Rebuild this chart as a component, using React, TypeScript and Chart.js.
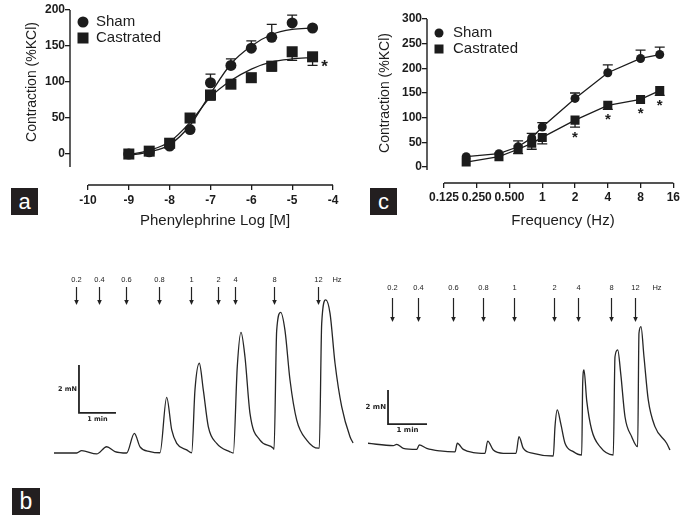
import React, { useEffect, useRef } from "react";
import { Chart, registerables } from "chart.js";

Chart.register(...registerables);

const FONT = '"Liberation Sans", Arial, sans-serif';
const INK = "#1c1c1c";
Chart.defaults.font.family = FONT;

// ---------- shared ----------
const seriesNames = ["Sham", "Castrated"];

// ---------- Panel a: phenylephrine concentration–response ----------
const peLogDose = [-9, -8.5, -8, -7.5, -7, -6.5, -6, -5.5, -5, -4.5];
const peSham = [0, 3, 11, 34, 99, 123, 147, 162, 182, 175];
const peShamSem = [0, 0, 0, 0, 12, 9, 10, 18, 11, 0];
const peCast = [0, 4, 15, 50, 82, 97, 106, 122, 142, 135];
const peCastSem = [0, 0, 0, 6, 7, 0, 0, 7, 12, 12];
const peShamFit = [-2, 3, 13, 40, 84, 125, 150, 166, 173, 175];
const peCastFit = [-1, 5, 17, 44, 79, 102, 118, 128, 132, 134];
const peXTicks = [-10, -9, -8, -7, -6, -5, -4];
const peYTicks = [0, 50, 100, 150, 200];

// ---------- Panel c: EFS frequency–response ----------
const efsFreq = [0.2, 0.4, 0.6, 0.8, 1, 2, 4, 8, 12];
const efsSham = [21, 27, 41, 59, 81, 139, 191, 220, 228];
const efsShamSem = [0, 0, 12, 9, 9, 11, 16, 17, 15];
const efsCast = [10, 21, 36, 48, 60, 95, 125, 137, 155];
const efsCastSem = [0, 0, 9, 12, 13, 14, 8, 0, 10];
const efsSignificant = [false, false, false, false, false, true, true, true, true];
const efsXTicks = [0.125, 0.25, 0.5, 1, 2, 4, 8, 16];
const efsXTickLabels = ["0.125", "0.250", "0.500", "1", "2", "4", "8", "16"];
const efsYTicks = [0, 50, 100, 150, 200, 250, 300];

// ---------- Panel b: tension traces (time s, force mN) ----------
const stimLabels = ["0.2", "0.4", "0.6", "0.8", "1", "2", "4", "8", "12"];
const shamStimTimes = [35.7, 73.0, 116.8, 170.3, 222.2, 265.9, 293.5, 356.8, 428.1];
const shamTraceT = [0, 36.8, 44.9, 69.2, 85.4, 98.9, 117.8, 130.3, 139.5, 155.7, 171.9, 182.7, 190.9, 199.0, 215.2, 223.3, 228.6, 235.6, 242.1, 250.2, 263.8, 285.4, 290.8, 297.2, 303.2, 309.7, 317.8, 334.0, 355.6, 356.8, 361.1, 367.6, 374.6, 382.7, 393.6, 409.8, 428.6, 430.2, 434.1, 440.6, 447.6, 455.7, 466.5, 480.0, 484.9];
const shamTraceF = [0, 0, 0.1, -0.04, 0.26, 0.06, 0, 0.82, 0.26, 0.06, 0.01, 2.32, 0.96, 0.4, 0.13, 0.01, 2.63, 3.74, 2.63, 1.1, 0.4, 0.05, 0, 3.6, 5.03, 4.0, 1.65, 0.54, 0.2, 0.15, 5.1, 5.86, 5.1, 3.04, 1.37, 0.54, 0.2, 0.2, 5.4, 6.38, 5.82, 3.74, 1.93, 0.68, 0.42];
const castStimTimes = [36.9, 76.9, 130.8, 176.9, 224.6, 286.2, 323.1, 373.8, 410.8];
const castTraceT = [0, 38.9, 44.1, 54.3, 74.9, 78.9, 90.3, 110.8, 133.8, 137.4, 146.6, 162.0, 180.0, 184.1, 192.8, 208.2, 227.7, 232.3, 239.0, 254.3, 285.1, 287.7, 291.2, 296.5, 303.1, 315.9, 328.8, 330.3, 332.3, 336.5, 344.2, 356.9, 377.4, 380.0, 384.2, 388.8, 395.4, 405.7, 414.9, 416.9, 420.0, 424.6, 431.2, 441.5, 459.5, 464.6];
const castTraceF = [0.69, 0.55, 0.63, 0.39, 0.33, 0.59, 0.39, 0.24, 0.18, 0.69, 0.33, 0.14, 0.1, 0.82, 0.29, 0.1, 0.1, 1.08, 0.39, 0.1, -0.06, 1.67, 2.65, 1.86, 0.69, 0.2, 0, 4.2, 5.0, 3.2, 1.47, 0.49, 0, 5.78, 6.18, 4.8, 2.25, 1.08, 0.49, 7.16, 7.55, 5.78, 3.24, 1.67, 0.69, 0.29];

const zip = (xs: number[], ys: number[]) => xs.map((x, i) => ({ x, y: ys[i] }));

function decorPlugin(d: any) {
  return {
    id: "decor",
    beforeDatasetsDraw(chart: any) {
      const { ctx, scales } = chart;
      const x = scales.x, y = scales.y;
      ctx.save();
      ctx.strokeStyle = INK;
      ctx.lineWidth = 1.3;
      for (const e of d.errors) {
        e.xs.forEach((xv: number, i: number) => {
          const s = e.errs[i];
          if (!s) return;
          const px = x.getPixelForValue(xv);
          const p0 = y.getPixelForValue(e.ys[i]);
          const p1 = y.getPixelForValue(e.ys[i] + e.dir * s);
          ctx.beginPath();
          ctx.moveTo(px, p0);
          ctx.lineTo(px, p1);
          ctx.moveTo(px - d.cap / 2, p1);
          ctx.lineTo(px + d.cap / 2, p1);
          ctx.stroke();
        });
      }
      ctx.restore();
    },
    afterDraw(chart: any) {
      const { ctx, scales, chartArea } = chart;
      const x = scales.x, y = scales.y;
      ctx.save();
      ctx.strokeStyle = INK;
      ctx.fillStyle = INK;
      ctx.lineWidth = 1.4;
      // axis lines (Prism-style, offset)
      ctx.beginPath();
      ctx.moveTo(chartArea.left, y.getPixelForValue(d.yAxis[1]));
      ctx.lineTo(chartArea.left, y.getPixelForValue(d.yAxis[0]));
      ctx.moveTo(x.getPixelForValue(d.xAxis[0]), chartArea.bottom);
      ctx.lineTo(x.getPixelForValue(d.xAxis[1]), chartArea.bottom);
      ctx.stroke();
      // titles
      ctx.textAlign = "center";
      ctx.textBaseline = "middle";
      ctx.font = `15px ${FONT}`;
      ctx.fillText(d.xTitle, d.xTitlePos[0], d.xTitlePos[1]);
      ctx.save();
      ctx.translate(d.yTitlePos[0], d.yTitlePos[1]);
      ctx.rotate(-Math.PI / 2);
      ctx.font = `14px ${FONT}`;
      ctx.fillText(d.yTitle, 0, 0);
      ctx.restore();
      // legend
      const [lx, ly] = d.legend.pos;
      ctx.beginPath();
      ctx.arc(lx, ly, d.legend.r, 0, Math.PI * 2);
      ctx.fill();
      const s = d.legend.side;
      ctx.fillRect(lx - s / 2, ly + d.legend.gap - s / 2, s, s);
      ctx.textAlign = "left";
      ctx.font = `15px ${FONT}`;
      ctx.fillText(seriesNames[0], d.legend.textX, ly);
      ctx.fillText(seriesNames[1], d.legend.textX, ly + d.legend.gap);
      // significance stars
      ctx.textAlign = "center";
      ctx.textBaseline = "alphabetic";
      ctx.font = `bold ${d.starSize}px ${FONT}`;
      for (const st of d.stars(x, y)) {
        ctx.fillText("*", st.cx, st.cy + d.starSize * 0.57);
      }
      ctx.restore();
    },
  };
}

function axisCommon(ticks: number[], labels: (v: number) => string, fit: (s: any) => void, pad: number) {
  return {
    afterBuildTicks: (s: any) => {
      s.ticks = ticks.map((v) => ({ value: v }));
    },
    afterFit: fit,
    border: { display: false },
    grid: { drawOnChartArea: false, drawTicks: true, tickLength: 5, color: INK, lineWidth: 1.3 },
    ticks: {
      autoSkip: false,
      maxRotation: 0,
      minRotation: 0,
      padding: pad,
      color: INK,
      font: { family: FONT, size: 12, weight: "bold" },
      callback: (v: any) => labels(Number(v)),
    },
  };
}

function pointSet(label: string, data: any[], style: string, r: number, order: number, showLine: boolean) {
  return {
    label,
    data,
    showLine,
    pointStyle: style,
    pointRadius: r,
    pointBackgroundColor: INK,
    pointBorderColor: INK,
    pointBorderWidth: 0,
    borderColor: INK,
    borderWidth: 1.3,
    backgroundColor: INK,
    order,
  };
}

function configA(): any {
  return {
    type: "line",
    data: {
      datasets: [
        pointSet(seriesNames[1], zip(peLogDose, peCast), "rect", 7.8, 0, false),
        pointSet(seriesNames[0], zip(peLogDose, peSham), "circle", 5.5, 1, false),
        { label: "Sham fit", data: zip(peLogDose, peShamFit), pointRadius: 0, borderColor: INK, borderWidth: 1.3, cubicInterpolationMode: "monotone", order: 2 },
        { label: "Castrated fit", data: zip(peLogDose, peCastFit), pointRadius: 0, borderColor: INK, borderWidth: 1.3, cubicInterpolationMode: "monotone", order: 2 },
      ],
    },
    options: {
      responsive: false,
      animation: false,
      devicePixelRatio: 1,
      events: [],
      layout: { padding: { top: 10, right: 12, left: 0, bottom: 0 }, autoPadding: false },
      plugins: { legend: { display: false }, tooltip: { enabled: false } },
      scales: {
        x: { type: "linear", min: -10.44, max: -4, ...axisCommon(peXTicks, (v) => String(v), (s: any) => { s.height = 55; }, 3) },
        y: { type: "linear", min: -43, max: 200, ...axisCommon(peYTicks, (v) => String(v), (s: any) => { s.width = 70; }, 0) },
      },
    },
    plugins: [
      decorPlugin({
        errors: [
          { xs: peLogDose, ys: peSham, errs: peShamSem, dir: 1 },
          { xs: peLogDose, ys: peCast, errs: peCastSem, dir: -1 },
        ],
        cap: 10,
        yAxis: [-18, 200],
        xAxis: [-10, -4],
        xTitle: "Phenylephrine Log [M]",
        xTitlePos: [215, 221],
        yTitle: "Contraction (%KCl)",
        yTitlePos: [32, 82],
        legend: { pos: [83, 22], r: 5.5, side: 11, gap: 16, textX: 96 },
        starSize: 17,
        stars: (x: any, y: any) => {
          const i = peLogDose.length - 1;
          return [{ cx: x.getPixelForValue(peLogDose[i]) + 12, cy: y.getPixelForValue(peCast[i]) + 5 }];
        },
      }),
    ],
  };
}

function configC(): any {
  return {
    type: "line",
    data: {
      datasets: [
        pointSet(seriesNames[1], zip(efsFreq, efsCast), "rect", 6.4, 0, true),
        pointSet(seriesNames[0], zip(efsFreq, efsSham), "circle", 4.5, 1, true),
      ],
    },
    options: {
      responsive: false,
      animation: false,
      devicePixelRatio: 1,
      events: [],
      layout: { padding: { top: 19, right: 8, left: 0, bottom: 0 }, autoPadding: false },
      plugins: { legend: { display: false }, tooltip: { enabled: false } },
      scales: {
        x: {
          type: "logarithmic",
          min: 0.0873,
          max: 16,
          ...axisCommon(efsXTicks, (v) => efsXTickLabels[efsXTicks.indexOf(v)] ?? "", (s: any) => { s.height = 57; }, 2),
        },
        y: { type: "linear", min: -32.4, max: 300, ...axisCommon(efsYTicks, (v) => String(v), (s: any) => { s.width = 82; }, 0) },
      },
    },
    plugins: [
      decorPlugin({
        errors: [
          { xs: efsFreq, ys: efsSham, errs: efsShamSem, dir: 1 },
          { xs: efsFreq, ys: efsCast, errs: efsCastSem, dir: -1 },
        ],
        cap: 10,
        yAxis: [-6, 300],
        xAxis: [0.125, 16],
        xTitle: "Frequency (Hz)",
        xTitlePos: [218, 221],
        yTitle: "Contraction (%KCl)",
        yTitlePos: [40, 93],
        legend: { pos: [94, 33], r: 4.5, side: 9, gap: 16, textX: 108 },
        starSize: 15,
        stars: (x: any, y: any) =>
          efsFreq
            .map((f, i) => ({ f, i }))
            .filter(({ i }) => efsSignificant[i])
            .map(({ f, i }) => {
              const bar = y.getPixelForValue(efsCast[i] - efsCastSem[i]);
              const sq = y.getPixelForValue(efsCast[i]) + 4.5;
              return { cx: x.getPixelForValue(f), cy: Math.max(bar, sq) + 6 };
            }),
      }),
    ],
  };
}

function tracePlugin(o: any) {
  return {
    id: "traceDecor",
    afterDatasetsDraw(chart: any) {
      const { ctx, scales } = chart;
      const x = scales.x, y = scales.y;
      ctx.save();
      ctx.fillStyle = "#222";
      ctx.strokeStyle = "#222";
      ctx.textAlign = "center";
      ctx.textBaseline = "middle";
      ctx.font = `7.5px ${FONT}`;
      o.stimTimes.forEach((t: number, i: number) => {
        const px = Math.round(x.getPixelForValue(t)) + 0.5;
        ctx.fillText(stimLabels[i], px, o.labelY);
        ctx.lineWidth = 1.2;
        ctx.beginPath();
        ctx.moveTo(px, o.arrowTop);
        ctx.lineTo(px, o.arrowBottom - 4);
        ctx.stroke();
        ctx.beginPath();
        ctx.moveTo(px - 2.3, o.arrowBottom - 5);
        ctx.lineTo(px + 2.3, o.arrowBottom - 5);
        ctx.lineTo(px, o.arrowBottom);
        ctx.closePath();
        ctx.fill();
      });
      ctx.fillText("Hz", x.getPixelForValue(o.hzTime), o.labelY);
      // scale bars: 1 min, 2 mN
      const x0 = x.getPixelForValue(o.barT), y0 = y.getPixelForValue(o.barF);
      const x1 = x.getPixelForValue(o.barT + 60), y1 = y.getPixelForValue(o.barF + 2);
      ctx.lineWidth = 1.8;
      ctx.beginPath();
      ctx.moveTo(x0, y1);
      ctx.lineTo(x0, y0);
      ctx.lineTo(x1, y0);
      ctx.stroke();
      ctx.font = `bold ${o.barFont}px "DejaVu Sans", Verdana, sans-serif`;
      ctx.textAlign = "right";
      ctx.fillText("2 mN", x0 - 2, (y0 + y1) / 2);
      ctx.textAlign = "center";
      ctx.fillText("1 min", (x0 + x1) / 2, y0 + 6);
      ctx.restore();
    },
  };
}

function traceConfig(t: number[], f: number[], xr: number[], yr: number[], deco: any): any {
  return {
    type: "line",
    data: {
      datasets: [
        { data: zip(t, f), borderColor: "#262626", borderWidth: 1.3, pointRadius: 0, cubicInterpolationMode: "monotone" },
      ],
    },
    options: {
      responsive: false,
      animation: false,
      devicePixelRatio: 1,
      events: [],
      layout: { padding: 0, autoPadding: false },
      plugins: { legend: { display: false }, tooltip: { enabled: false } },
      scales: {
        x: { type: "linear", display: false, min: xr[0], max: xr[1] },
        y: { type: "linear", display: false, min: yr[0], max: yr[1] },
      },
    },
    plugins: [tracePlugin(deco)],
  };
}

const boxStyle = (left: number, top: number, w: number, h: number, size: number): React.CSSProperties => ({
  position: "absolute",
  left,
  top,
  width: w,
  height: h,
  background: "#231f20",
  color: "#fff",
  fontFamily: FONT,
  fontSize: size,
  lineHeight: `${h}px`,
  textAlign: "center",
});

export default function App() {
  const aRef = useRef<HTMLCanvasElement>(null);
  const cRef = useRef<HTMLCanvasElement>(null);
  const lRef = useRef<HTMLCanvasElement>(null);
  const rRef = useRef<HTMLCanvasElement>(null);

  useEffect(() => {
    const charts: Chart[] = [];
    charts.push(new Chart(aRef.current!, configA()));
    charts.push(new Chart(cRef.current!, configC()));
    charts.push(
      new Chart(
        lRef.current!,
        traceConfig(shamTraceT, shamTraceF, [-22.7, 496.2], [-1.125, 7.625], {
          stimTimes: shamStimTimes,
          hzTime: 458.9,
          labelY: 10,
          arrowTop: 17,
          arrowBottom: 35,
          barT: 40.5,
          barF: 1.67,
          barFont: 6.5,
        })
      )
    );
    charts.push(
      new Chart(
        rRef.current!,
        traceConfig(castTraceT, castTraceF, [-12.31, 483.1], [-1.47, 10.88], {
          stimTimes: castStimTimes,
          hzTime: 444.6,
          labelY: 18,
          arrowTop: 28,
          arrowBottom: 52,
          barT: 30.8,
          barF: 1.82,
          barFont: 7,
        })
      )
    );
    return () => charts.forEach((c) => c.destroy());
  }, []);

  return (
    <div style={{ position: "fixed", left: 0, top: 0, width: 682, height: 520, background: "#fff", overflow: "hidden" }}>
      <canvas ref={aRef} width={345} height={240} style={{ position: "absolute", left: 0, top: 0 }} />
      <canvas ref={cRef} width={337} height={240} style={{ position: "absolute", left: 345, top: 0 }} />
      <canvas ref={lRef} width={320} height={210} style={{ position: "absolute", left: 40, top: 270 }} />
      <canvas ref={rRef} width={322} height={210} style={{ position: "absolute", left: 360, top: 270 }} />
      <div style={boxStyle(11, 188, 27, 27, 22)}>a</div>
      <div style={boxStyle(370, 188, 27, 27, 22)}>c</div>
      <div style={boxStyle(12, 488, 28, 27, 23)}>b</div>
    </div>
  );
}
